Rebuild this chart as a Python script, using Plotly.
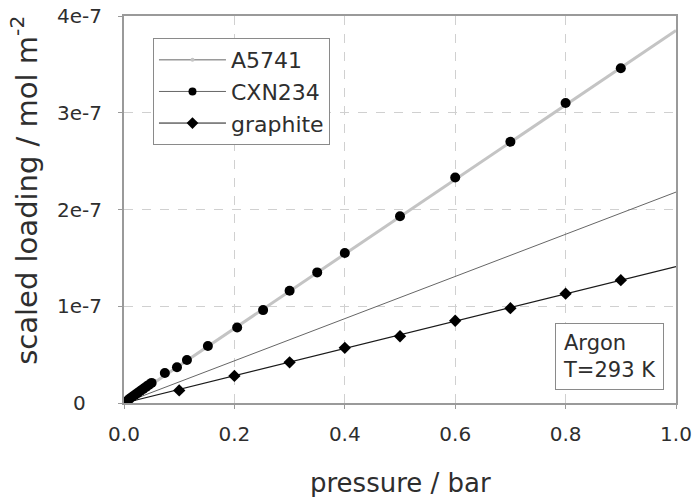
import plotly.graph_objects as go

# Argon isotherms at 293 K, loading scaled by surface area
cxn_p = [0.0, 0.005, 0.01, 0.015, 0.02, 0.025, 0.03, 0.035, 0.04, 0.045, 0.05,
         0.074, 0.096, 0.114, 0.152, 0.205, 0.252, 0.30, 0.35, 0.40, 0.50,
         0.60, 0.70, 0.80, 0.90]
cxn_q = [0.0, 0.02e-7, 0.043e-7, 0.064e-7, 0.085e-7, 0.105e-7, 0.126e-7, 0.146e-7,
         0.167e-7, 0.187e-7, 0.208e-7,
         0.31e-7, 0.37e-7, 0.445e-7, 0.59e-7, 0.78e-7, 0.96e-7, 1.16e-7, 1.35e-7,
         1.55e-7, 1.93e-7, 2.33e-7, 2.70e-7, 3.10e-7, 3.46e-7]

gra_p = [0.0, 0.10, 0.20, 0.30, 0.40, 0.50, 0.60, 0.70, 0.80, 0.90]
gra_q = [0.0, 0.13e-7, 0.28e-7, 0.42e-7, 0.57e-7, 0.69e-7, 0.85e-7, 0.98e-7,
         1.13e-7, 1.27e-7]

# Linear Henry-law fits
fit_p = [0.0, 1.0]
fit_a5741 = [0.0, 2.18e-7]
fit_cxn = [0.0, 3.85e-7]
fit_gra = [0.0, 1.41e-7]

x_ticks = [0.0, 0.2, 0.4, 0.6, 0.8, 1.0]
x_ticktext = ["0.0", "0.2", "0.4", "0.6", "0.8", "1.0"]
y_ticks = [0.0, 1e-7, 2e-7, 3e-7, 4e-7]
y_ticktext = ["0", "1e-7", "2e-7", "3e-7", "4e-7"]

FONT = "DejaVu Sans, Verdana, sans-serif"
TXT = "#2e2e2e"

fig = go.Figure()

# fit lines
fig.add_trace(go.Scatter(x=fit_p, y=fit_cxn, mode="lines",
                         line=dict(color="#c4c4c4", width=3), showlegend=False,
                         hoverinfo="skip"))
fig.add_trace(go.Scatter(x=fit_p, y=fit_a5741, mode="lines",
                         line=dict(color="#666666", width=1), showlegend=False,
                         hoverinfo="skip"))
fig.add_trace(go.Scatter(x=fit_p, y=fit_gra, mode="lines",
                         line=dict(color="#1a1a1a", width=1.2), showlegend=False,
                         hoverinfo="skip"))

# measured points
fig.add_trace(go.Scatter(x=cxn_p, y=cxn_q, mode="markers",
                         marker=dict(symbol="circle", size=10, color="#000000"),
                         showlegend=False))
fig.add_trace(go.Scatter(x=gra_p, y=gra_q, mode="markers",
                         marker=dict(symbol="diamond", size=9.5, color="#000000"),
                         showlegend=False))

# legend entries
fig.add_trace(go.Scatter(x=[None], y=[None], mode="lines+markers", name="A5741",
                         line=dict(color="#666666", width=1),
                         marker=dict(symbol="circle", size=4, color="#c4c4c4")))
fig.add_trace(go.Scatter(x=[None], y=[None], mode="lines+markers", name="CXN234",
                         line=dict(color="#666666", width=1),
                         marker=dict(symbol="circle", size=8, color="#000000")))
fig.add_trace(go.Scatter(x=[None], y=[None], mode="lines+markers", name="graphite",
                         line=dict(color="#1a1a1a", width=1),
                         marker=dict(symbol="diamond", size=9, color="#000000")))

# y tick labels, centred in a column left of the axis
for v, t in zip(y_ticks, y_ticktext):
    fig.add_annotation(x=-0.08, y=v, xref="paper", yref="y",
                       xanchor="center", yanchor="middle", text=t,
                       showarrow=False,
                       font=dict(family=FONT, size=20, color=TXT))

# condition label
fig.add_annotation(x=0.978, y=0.034, xref="paper", yref="paper",
                   xanchor="right", yanchor="bottom", align="left",
                   text="Argon<br>T=293 K", showarrow=False,
                   font=dict(family=FONT, size=21, color=TXT),
                   bordercolor="#8a8a8a", borderwidth=1, borderpad=7,
                   bgcolor="white")

# axis titles
fig.add_annotation(x=0.5, y=-0.207, xref="paper", yref="paper",
                   xanchor="center", yanchor="middle",
                   text="pressure / bar", showarrow=False,
                   font=dict(family=FONT, size=26, color=TXT))
fig.add_annotation(x=-0.18, y=0.55, xref="paper", yref="paper",
                   xanchor="center", yanchor="middle", textangle=-90,
                   text="scaled loading / mol m<sup>-2</sup>", showarrow=False,
                   font=dict(family=FONT, size=29, color=TXT))

axis_common = dict(showline=True, linecolor="#9a9a9a", linewidth=1.5, mirror=True,
                   showgrid=True, gridcolor="#d0d0d0", griddash="dash", gridwidth=1,
                   zeroline=False, ticks="outside", ticklen=4, tickcolor="#9a9a9a",
                   automargin=False,
                   tickfont=dict(family=FONT, size=20, color=TXT))

fig.update_xaxes(range=[0, 1.0], tickvals=x_ticks, ticktext=x_ticktext,
                 ticklabelstandoff=8, **axis_common)
fig.update_yaxes(range=[0, 4e-7], tickvals=y_ticks, showticklabels=False,
                 **axis_common)

fig.update_layout(
    template="none",
    width=693, height=497,
    margin=dict(l=124, r=17, t=16, b=94),
    paper_bgcolor="white", plot_bgcolor="white",
    showlegend=True,
    legend=dict(x=0.0525, y=0.943, xanchor="left", yanchor="top",
                bordercolor="#8a8a8a", borderwidth=1, bgcolor="white",
                font=dict(family=FONT, size=22, color=TXT),
                itemwidth=67),
)

fig.write_html("out.html")
